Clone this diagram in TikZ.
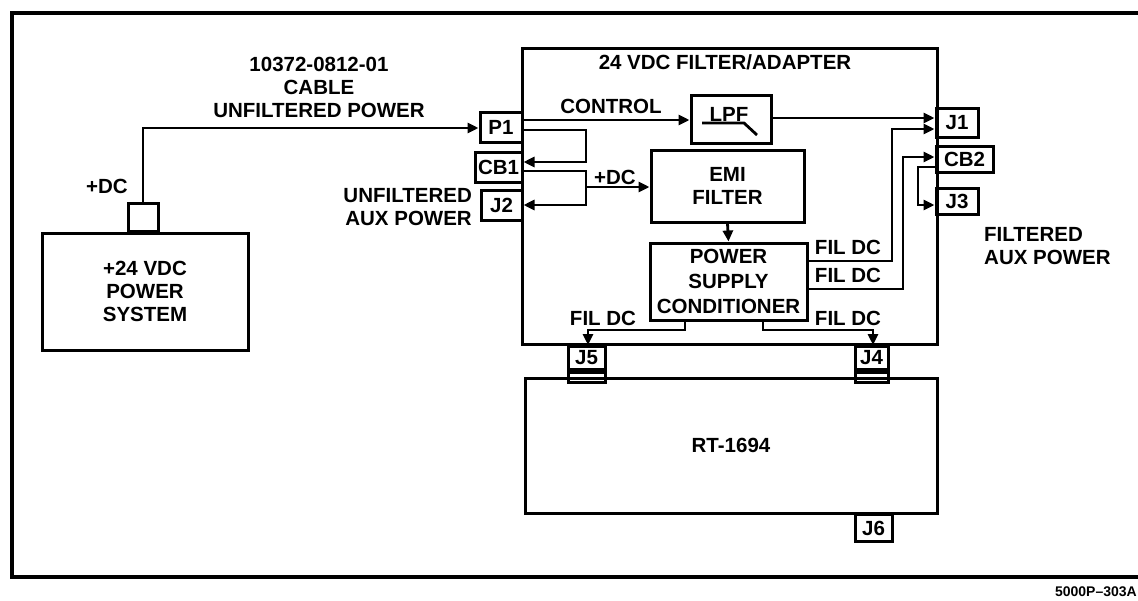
\documentclass[tikz,border=0pt]{standalone}
\usepackage{fontspec}
\setmainfont{Liberation Sans}
\usetikzlibrary{arrows.meta}
\begin{document}
\begin{tikzpicture}[x=1pt,y=-1pt,
  font=\bfseries\fontsize{20.5}{23}\selectfont,
  box/.style={draw, line width=3pt, inner sep=0pt, align=center},
  lbl/.style={inner sep=0pt, align=center},
  wire/.style={line width=2.8pt},
  arr/.style={wire, -{Triangle[length=11pt,width=10pt]}}]
\useasboundingbox (0,0) rectangle (1138,600);
% outer frame
\draw[line width=4pt] (1138,13) -- (12,13) -- (12,577) -- (1138,577);
% power system
\node[box, minimum width=206pt, minimum height=117pt] (ps) at (145,291.5) {+24 VDC\\POWER\\SYSTEM};
\node[box, minimum width=30pt, minimum height=28pt, anchor=south] (stub) at (143,233) {};
\node[lbl] (dc1) at (107,186) {+DC};
\node[lbl] (cable) at (319,87) {10372-0812-01\\CABLE\\UNFILTERED POWER};
% filter/adapter
\node[box, minimum width=415pt, minimum height=296pt] (filt) at (729.5,196) {};
\node[lbl] (title) at (725,62) {24 VDC FILTER/ADAPTER};
\node[box, minimum width=42pt, minimum height=30pt] (p1) at (501,127) {P1};
\node[box, minimum width=47pt, minimum height=30pt] (cb1) at (498.5,167) {CB1};
\node[box, minimum width=41pt, minimum height=30pt] (j2) at (501.5,205) {J2};
\node[lbl, align=right, anchor=east] (unf) at (472,207) {UNFILTERED\\AUX POWER};
\node[box, minimum width=80pt, minimum height=48pt] (lpf) at (731,119) {};
\node[lbl, anchor=base] (lpft) at (729,121) {LPF};
\draw[wire] (702,123) -- (744,123) -- (757,135);
\node[box, minimum width=153pt, minimum height=72pt] (emi) at (727.5,186) {EMI\\FILTER};
\node[box, minimum width=157pt, minimum height=77pt, font=\bfseries\fontsize{20.5}{25}\selectfont] (psc) at (728.5,281.5) {POWER\\SUPPLY\\CONDITIONER};
\node[box, minimum width=42pt, minimum height=29pt] (j1) at (957,122.5) {J1};
\node[box, minimum width=57pt, minimum height=26pt] (cb2) at (964.5,159) {CB2};
\node[box, minimum width=42pt, minimum height=26pt] (j3) at (957,201) {J3};
\node[lbl, align=left, anchor=west] (fil) at (984,246) {FILTERED\\AUX POWER};
% connectors J5 / J4
\node[box, minimum width=37pt, minimum height=23pt, anchor=north] (j5) at (586.5,345) {J5};
\node[box, minimum width=37pt, minimum height=10pt, anchor=north] (j5b) at (j5.south) {};
\node[box, minimum width=33pt, minimum height=23pt, anchor=north] (j4) at (871.5,345) {J4};
\node[box, minimum width=33pt, minimum height=10pt, anchor=north] (j4b) at (j4.south) {};
% RT-1694
\node[box, minimum width=412pt, minimum height=135pt] (rt) at (731,445.5) {RT-1694};
\node[box, minimum width=37pt, minimum height=27pt, anchor=north] (j6) at (873.5,513) {J6};
\node[lbl, anchor=east, font=\bfseries\fontsize{14}{16}\selectfont] (code) at (1137,592) {5000P--303A};
% wires
\draw[arr] (stub.north) |- (p1.west |- 0,128);
\draw[arr] (522,120) -- (lpf.west |- 0,120);
\node[lbl] (ctl) at (611,106) {CONTROL};
\draw[arr] (522,130) -- (586,130) -- (586,162) -- (cb1.east |- 0,162);
\draw[arr] (522,171) -- (586,171) -- (586,205) -- (j2.east |- 0,205);
\draw[arr] (586,187) -- (emi.west |- 0,187);
\node[lbl] (dc2) at (615,177) {+DC};
\draw[arr] (lpf.east |- 0,118) -- (j1.west |- 0,118);
\draw[arr] (psc.east |- 0,261) -- (892,261) -- (892,129) -- (j1.west |- 0,129);
\draw[arr] (psc.east |- 0,289) -- (903,289) -- (903,157) -- (cb2.west |- 0,157);
\draw[arr] (cb2.west |- 0,167) -- (918,167) -- (918,205) -- (j3.west |- 0,205);
\draw[arr] (emi.south) -- (psc.north);
\draw[arr] (psc.south -| 685,0) -- (685,330) -- (588,330) -- (j5.north -| 588,0);
\draw[arr] (psc.south -| 763,0) -- (763,330) -- (873,330) -- (j4.north -| 873,0);
\node[lbl] (f1) at (848,247) {FIL DC};
\node[lbl] (f2) at (848,275) {FIL DC};
\node[lbl] (f3) at (603,318) {FIL DC};
\node[lbl] (f4) at (848,318) {FIL DC};
\end{tikzpicture}
\end{document}
